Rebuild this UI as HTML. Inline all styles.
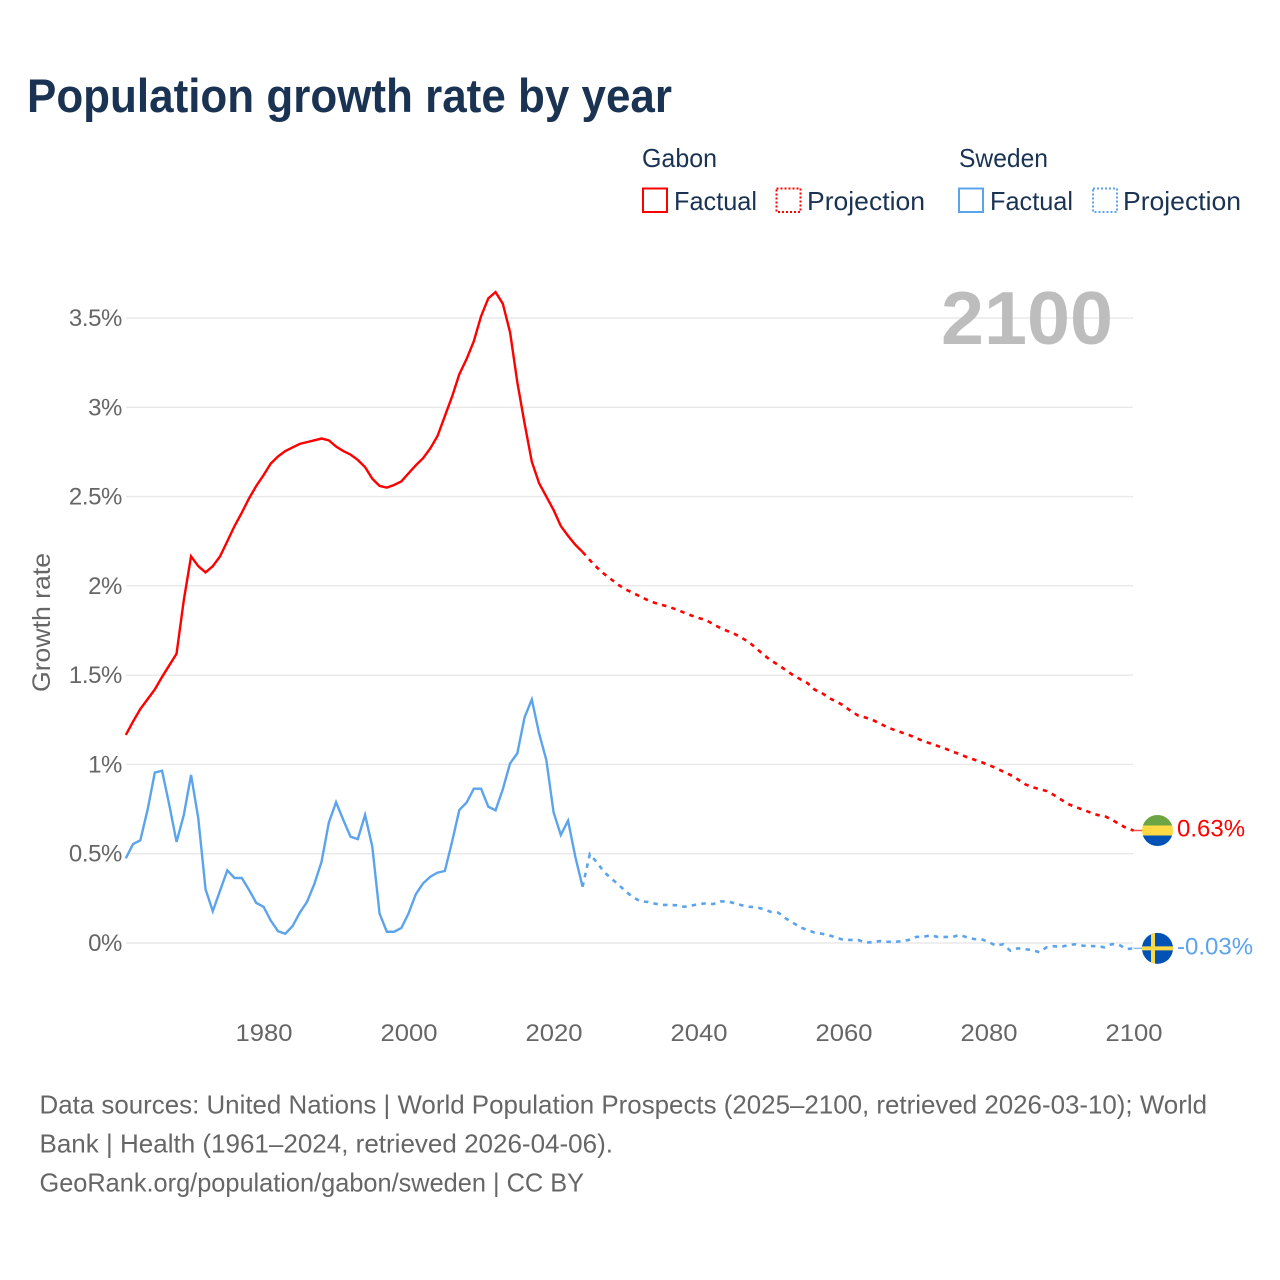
<!DOCTYPE html>
<html lang="en">
<head>
<meta charset="utf-8">
<title>Population growth rate by year</title>
<style>
html,body{margin:0;padding:0;background:#fff;width:1280px;height:1280px;overflow:hidden}
svg{display:block}
text{font-family:"Liberation Sans",sans-serif}
.legend-text{font-size:26px;fill:#1a3353}
.note{font-size:26px;fill:#666}
.tick{font-size:24px;fill:#666}
</style>
</head>
<body>
<svg id="chart" width="1280" height="1280" viewBox="0 0 1280 1280" xmlns="http://www.w3.org/2000/svg">
  <defs>
    <clipPath id="flag-clip"><circle cx="0" cy="0" r="15.5"/></clipPath>
  </defs>
  <text x="27" y="112" font-size="47" font-weight="700" fill="#1a3353" textLength="645" lengthAdjust="spacingAndGlyphs">Population growth rate by year</text>

  <g>
    <text class="legend-text" x="642" y="167" textLength="75" lengthAdjust="spacingAndGlyphs">Gabon</text>
    <text class="legend-text" x="959" y="167" textLength="89" lengthAdjust="spacingAndGlyphs">Sweden</text>
    <rect x="643" y="188.5" width="24" height="23.5" fill="none" stroke="#ff0000" stroke-width="2"/>
    <text class="legend-text" x="674" y="210" textLength="83" lengthAdjust="spacingAndGlyphs">Factual</text>
    <rect x="776.5" y="188.5" width="24" height="23.5" fill="none" stroke="#ff0000" stroke-width="2" stroke-dasharray="2 2"/>
    <text class="legend-text" x="807" y="210" textLength="118" lengthAdjust="spacingAndGlyphs">Projection</text>
    <rect x="959" y="188.5" width="24" height="23.5" fill="none" stroke="#5ba4ec" stroke-width="2"/>
    <text class="legend-text" x="990" y="210" textLength="83" lengthAdjust="spacingAndGlyphs">Factual</text>
    <rect x="1093" y="188.5" width="24" height="23.5" fill="none" stroke="#5ba4ec" stroke-width="2" stroke-dasharray="2 2"/>
    <text class="legend-text" x="1123" y="210" textLength="118" lengthAdjust="spacingAndGlyphs">Projection</text>
  </g>

  <g id="grid"></g>
  <g id="y-ticks"></g>
  <g id="x-ticks"></g>
  <text x="1113" y="344" font-size="75" font-weight="700" fill="#bdbdbd" text-anchor="end" textLength="172" lengthAdjust="spacingAndGlyphs">2100</text>
  <text transform="translate(50 692) rotate(-90)" font-size="25" fill="#666" textLength="139" lengthAdjust="spacingAndGlyphs">Growth rate</text>

  <g id="series"></g>

  <g id="flag-gabon">
    <g clip-path="url(#flag-clip)">
      <rect x="-16" y="-16" width="32" height="11" fill="#6da544"/>
      <rect x="-16" y="-5" width="32" height="10" fill="#ffda44"/>
      <rect x="-16" y="5" width="32" height="11" fill="#0052b4"/>
    </g>
  </g>
  <g id="flag-sweden">
    <g clip-path="url(#flag-clip)">
      <rect x="-16" y="-16" width="32" height="32" fill="#0052b4"/>
      <rect x="-6.5" y="-16" width="4" height="32" fill="#ffda44"/>
      <rect x="-16" y="-2" width="32" height="4" fill="#ffda44"/>
    </g>
  </g>
  <text id="end-label-gabon" x="1177" font-size="24" fill="#ff0000">0.63%</text>
  <text id="end-label-sweden" x="1177" font-size="24" fill="#5ba4ec">-0.03%</text>

  <g>
    <text class="note" x="39.5" y="1113.5" textLength="1167.5" lengthAdjust="spacingAndGlyphs">Data sources: United Nations | World Population Prospects (2025–2100, retrieved 2026-03-10); World</text>
    <text class="note" x="39.5" y="1152.5" textLength="573.5" lengthAdjust="spacingAndGlyphs">Bank | Health (1961–2024, retrieved 2026-04-06).</text>
    <text class="note" x="39.5" y="1191.5" textLength="544.5" lengthAdjust="spacingAndGlyphs">GeoRank.org/population/gabon/sweden | CC BY</text>
  </g>
</svg>
<script>
const firstFactualYear = 1961;
const lastFactualYear = 2024;
const yTickValues = [0, 0.5, 1, 1.5, 2, 2.5, 3, 3.5];
const yTickLabels = ['0%', '0.5%', '1%', '1.5%', '2%', '2.5%', '3%', '3.5%'];
const xTickYears = [1980, 2000, 2020, 2040, 2060, 2080, 2100];
const gabonFactual = [1.165,1.24,1.31,1.365,1.42,1.49,1.555,1.62,1.92,2.165,2.11,2.075,2.11,2.165,2.25,2.335,2.41,2.49,2.56,2.62,2.685,2.725,2.755,2.775,2.795,2.805,2.815,2.825,2.815,2.78,2.755,2.735,2.705,2.665,2.6,2.56,2.55,2.565,2.585,2.63,2.675,2.715,2.77,2.84,2.95,3.06,3.185,3.27,3.37,3.51,3.61,3.645,3.58,3.42,3.14,2.91,2.695,2.575,2.5,2.425,2.335,2.28,2.23,2.19];
const gabonProjection = [2.144,2.102,2.066,2.035,2.004,1.979,1.96,1.939,1.92,1.904,1.893,1.881,1.867,1.85,1.834,1.82,1.809,1.786,1.764,1.747,1.73,1.708,1.683,1.649,1.613,1.582,1.557,1.529,1.501,1.478,1.456,1.419,1.4,1.372,1.352,1.33,1.299,1.274,1.263,1.249,1.229,1.209,1.193,1.179,1.165,1.148,1.131,1.117,1.103,1.089,1.072,1.058,1.041,1.027,1.013,0.997,0.98,0.96,0.941,0.917,0.89,0.873,0.862,0.851,0.829,0.803,0.778,0.761,0.747,0.731,0.717,0.711,0.691,0.666,0.644,0.63];
const swedenFactual = [0.474,0.554,0.575,0.745,0.954,0.965,0.773,0.566,0.717,0.941,0.698,0.301,0.178,0.293,0.407,0.364,0.364,0.297,0.224,0.203,0.125,0.066,0.052,0.095,0.17,0.231,0.33,0.455,0.674,0.788,0.689,0.595,0.582,0.717,0.539,0.165,0.063,0.063,0.084,0.166,0.273,0.334,0.371,0.394,0.403,0.567,0.745,0.786,0.864,0.864,0.763,0.743,0.861,1.006,1.062,1.264,1.364,1.174,1.025,0.732,0.605,0.685,0.483,0.315];
const swedenProjection = [0.498,0.45,0.396,0.36,0.325,0.287,0.256,0.233,0.23,0.22,0.213,0.213,0.211,0.203,0.209,0.218,0.222,0.218,0.233,0.233,0.222,0.211,0.203,0.2,0.189,0.174,0.17,0.138,0.114,0.088,0.073,0.058,0.052,0.043,0.03,0.018,0.017,0.017,0.003,0.004,0.011,0.007,0.006,0.01,0.017,0.034,0.035,0.043,0.034,0.034,0.034,0.045,0.032,0.022,0.021,0.006,-0.015,-0.007,-0.043,-0.03,-0.035,-0.039,-0.052,-0.024,-0.018,-0.022,-0.011,-0.007,-0.015,-0.017,-0.018,-0.024,-0.006,-0.01,-0.034,-0.03];

const SVG_NS = 'http://www.w3.org/2000/svg';
function xScale(year) { return 125.8 + (year - 1961) * (1133.6 - 125.8) / (2100 - 1961); }
function yScale(value) { return 943 - value * (943 - 318) / 3.5; }
function linePath(values, startYear) {
  let d = '';
  values.forEach(function (v, i) {
    d += (d ? 'L' : 'M') + xScale(startYear + i).toFixed(2) + ' ' + yScale(v).toFixed(2);
  });
  return d;
}

const gridGroup = document.getElementById('grid');
const yTickGroup = document.getElementById('y-ticks');
const xTickGroup = document.getElementById('x-ticks');
const seriesGroup = document.getElementById('series');

yTickValues.forEach(function (value, i) {
  const line = document.createElementNS(SVG_NS, 'line');
  
  
  line.setAttribute('x1', 126);
  line.setAttribute('x2', 1133);
  line.setAttribute('y1', yScale(value));
  line.setAttribute('y2', yScale(value));
  line.setAttribute('stroke', '#e8e8e8');
  line.setAttribute('stroke-width', '1.4');
  gridGroup.appendChild(line);

  const label = document.createElementNS(SVG_NS, 'text');
  
  
  label.setAttribute('class', 'tick');
  label.setAttribute('x', 122);
  label.setAttribute('y', yScale(value) + 8);
  label.setAttribute('text-anchor', 'end');
  label.setAttribute('letter-spacing', '-0.4');
  label.textContent = yTickLabels[i];
  yTickGroup.appendChild(label);
});

xTickYears.forEach(function (year) {
  const label = document.createElementNS(SVG_NS, 'text');
  
  
  label.setAttribute('class', 'tick');
  label.setAttribute('x', xScale(year) + 0.4);
  label.setAttribute('y', 1041);
  label.setAttribute('text-anchor', 'middle');
  label.setAttribute('textLength', '57');
  label.setAttribute('lengthAdjust', 'spacingAndGlyphs');
  label.textContent = String(year);
  xTickGroup.appendChild(label);
});

const sweColor = '#5ba4ec';
const gabColor = '#ff0000';

const gabonProjPath = document.createElementNS(SVG_NS, 'path');


gabonProjPath.setAttribute('d', linePath([gabonFactual[gabonFactual.length - 1]].concat(gabonProjection), lastFactualYear));
gabonProjPath.setAttribute('fill', 'none');
gabonProjPath.setAttribute('stroke', gabColor);
gabonProjPath.setAttribute('stroke-width', '2.6');
gabonProjPath.setAttribute('stroke-dasharray', '4.5 5.2');
seriesGroup.appendChild(gabonProjPath);

const swedenProjPath = document.createElementNS(SVG_NS, 'path');


swedenProjPath.setAttribute('d', linePath([swedenFactual[swedenFactual.length - 1]].concat(swedenProjection), lastFactualYear));
swedenProjPath.setAttribute('fill', 'none');
swedenProjPath.setAttribute('stroke', sweColor);
swedenProjPath.setAttribute('stroke-width', '2.6');
swedenProjPath.setAttribute('stroke-dasharray', '4.5 5.2');
seriesGroup.appendChild(swedenProjPath);

const gabonPath = document.createElementNS(SVG_NS, 'path');


gabonPath.setAttribute('d', linePath(gabonFactual, firstFactualYear));
gabonPath.setAttribute('fill', 'none');
gabonPath.setAttribute('stroke', gabColor);
gabonPath.setAttribute('stroke-width', '2.4');
seriesGroup.appendChild(gabonPath);

const swedenPath = document.createElementNS(SVG_NS, 'path');


swedenPath.setAttribute('d', linePath(swedenFactual, firstFactualYear));
swedenPath.setAttribute('fill', 'none');
swedenPath.setAttribute('stroke', sweColor);
swedenPath.setAttribute('stroke-width', '2.4');
seriesGroup.appendChild(swedenPath);

const gabonEnd = gabonProjection[gabonProjection.length - 1];
const swedenEnd = swedenProjection[swedenProjection.length - 1];

const gabonConnector = document.createElementNS(SVG_NS, 'line');


gabonConnector.setAttribute('x1', xScale(2100));
gabonConnector.setAttribute('x2', xScale(2100) + 9);
gabonConnector.setAttribute('y1', yScale(gabonEnd));
gabonConnector.setAttribute('y2', yScale(gabonEnd));
gabonConnector.setAttribute('stroke', gabColor);
gabonConnector.setAttribute('stroke-opacity', '0.7');
gabonConnector.setAttribute('stroke-width', '1.5');
seriesGroup.appendChild(gabonConnector);

const swedenConnector = document.createElementNS(SVG_NS, 'line');


swedenConnector.setAttribute('x1', xScale(2100));
swedenConnector.setAttribute('x2', xScale(2100) + 9);
swedenConnector.setAttribute('y1', yScale(swedenEnd));
swedenConnector.setAttribute('y2', yScale(swedenEnd));
swedenConnector.setAttribute('stroke', sweColor);
swedenConnector.setAttribute('stroke-opacity', '0.7');
swedenConnector.setAttribute('stroke-width', '1.5');
seriesGroup.appendChild(swedenConnector);

document.getElementById('flag-gabon').setAttribute('transform', 'translate(1157.5 ' + yScale(gabonEnd) + ')');
document.getElementById('flag-sweden').setAttribute('transform', 'translate(1157.5 ' + yScale(swedenEnd) + ')');
document.getElementById('end-label-gabon').setAttribute('y', yScale(gabonEnd) + 6);
document.getElementById('end-label-sweden').setAttribute('y', yScale(swedenEnd) + 6);
</script>
</body>
</html>
